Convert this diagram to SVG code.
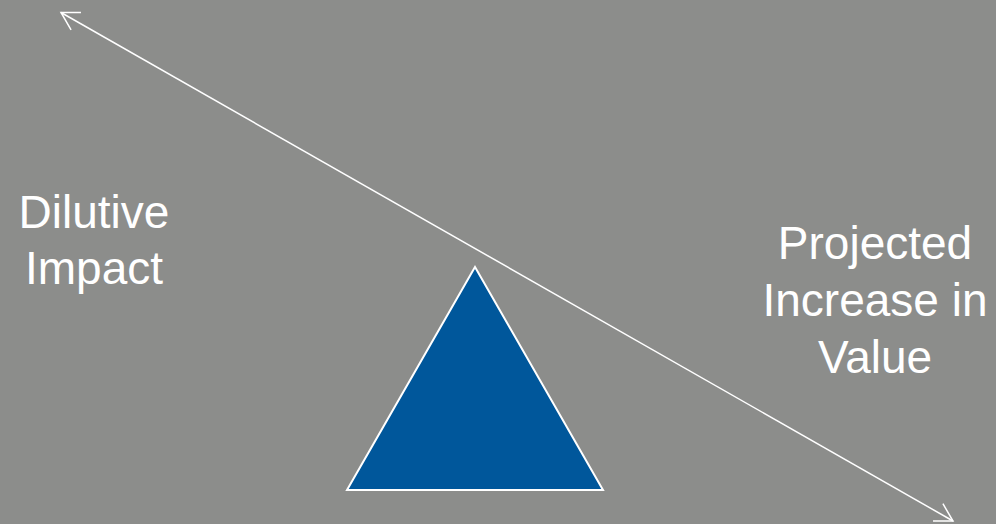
<svg xmlns="http://www.w3.org/2000/svg" width="996" height="524" viewBox="0 0 996 524">
  <style>
    .lbl { font-family: "Liberation Sans", Arial, sans-serif; font-size: 46px; fill: #ffffff; text-anchor: middle; }
    .conn { stroke: #ffffff; stroke-width: 1.5; fill: none; }
  </style>
  <defs>
    <marker id="openArrow" markerUnits="userSpaceOnUse" markerWidth="24" markerHeight="24" refX="20" refY="12" orient="auto-start-reverse" viewBox="0 0 24 24">
      <path d="M 2.7 2 L 20 12 L 2.7 22" fill="none" stroke="#ffffff" stroke-width="1.5"/>
    </marker>
  </defs>
  <rect width="996" height="524" fill="#8c8d8b"/>
  <g id="fulcrum">
    <polygon points="475,267 347,490 603,490" fill="#00579b" stroke="#ffffff" stroke-width="2"/>
  </g>
  <g id="connectors">
    <line class="conn" x1="61" y1="12.5" x2="953" y2="521" marker-start="url(#openArrow)" marker-end="url(#openArrow)"/>
  </g>
  <g id="dilutive">
    <text class="lbl" x="94" y="228">Dilutive</text>
    <text class="lbl" x="94" y="284">Impact</text>
  </g>
  <g id="projected">
    <text class="lbl" x="875" y="259">Projected</text>
    <text class="lbl" x="875" y="316">Increase in</text>
    <text class="lbl" x="875" y="373">Value</text>
  </g>
</svg>
